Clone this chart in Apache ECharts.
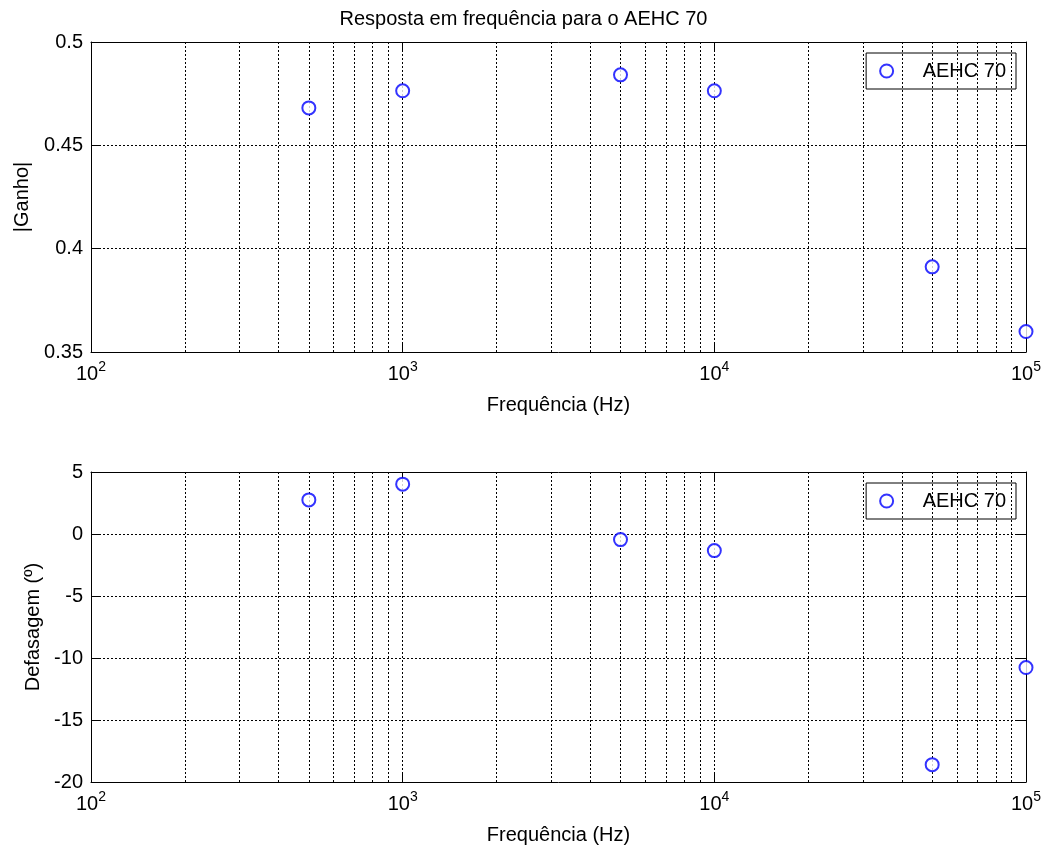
<!DOCTYPE html>
<html>
<head>
<meta charset="utf-8">
<title>Resposta em frequência para o AEHC 70</title>
<script src="https://cdn.jsdelivr.net/npm/echarts@6/dist/echarts.min.js"></script>
<style>
    html, body { margin: 0; padding: 0; background: #fff; }
    #chart { width: 1047px; height: 853px; }
</style>
</head>
<body>
<div id="chart"></div>
<script>
// === DATA ===
const freq = [500, 1000, 5000, 10000, 50000, 100000];
const ganho = [0.4681, 0.4764, 0.4841, 0.4764, 0.3912, 0.3599];
const defasagem = [2.75, 4.02, -0.45, -1.34, -18.6, -10.77];
const decades = [100, 1000, 10000];
const minorSteps = [2, 3, 4, 5, 6, 7, 8, 9];

const FONT = "Liberation Sans";
const gridDash = { color: "#000", width: 1, type: [2, 2] };

// minor grid positions 200..900, 2000..9000, 20000..90000
const minorLines = [];
decades.forEach((d) => minorSteps.forEach((k) => minorLines.push({ xAxis: k * d })));

const expLabel = (v) => "{b|10}{s|" + Math.round(Math.log10(v)) + "}";

const chart = echarts.init(document.getElementById("chart"));

const makeX = (gridIndex, showLabels) => ({
    type: "log",
    logBase: 10,
    gridIndex: gridIndex,
    position: showLabels ? "bottom" : "top",
    min: 100,
    max: 100000,
    splitNumber: 3,
    name: showLabels ? "Frequência (Hz)" : "",
    nameLocation: "middle",
    nameGap: 43,
    nameTextStyle: { fontFamily: FONT, fontSize: 20, color: "#000" },
    axisLine: { show: true, onZero: false, lineStyle: { color: "#000", width: 1 } },
    axisTick: { show: true, inside: true, length: 9, lineStyle: { color: "#000" } },
    axisLabel: {
        show: showLabels,
        margin: 8,
        formatter: expLabel,
        rich: {
            b: { fontFamily: FONT, fontSize: 20, color: "#000", lineHeight: 24, verticalAlign: "bottom" },
            s: { fontFamily: FONT, fontSize: 14, color: "#000", lineHeight: 14, verticalAlign: "top" },
        },
    },
    splitLine: { show: showLabels, lineStyle: gridDash },
});

const makeY = (gridIndex, showLabels, min, max, interval, name, nameGap) => ({
    type: "value",
    gridIndex: gridIndex,
    position: showLabels ? "left" : "right",
    min: min,
    max: max,
    interval: interval,
    name: showLabels ? name : "",
    nameLocation: "middle",
    nameGap: nameGap,
    nameTextStyle: { fontFamily: FONT, fontSize: 20, color: "#000" },
    axisLine: { show: true, onZero: false, lineStyle: { color: "#000", width: 1 } },
    axisTick: { show: true, inside: true, length: 9, lineStyle: { color: "#000" } },
    axisLabel: { show: showLabels, margin: 8, fontFamily: FONT, fontSize: 20, color: "#000" },
    splitLine: { show: showLabels, lineStyle: gridDash },
});

const makeLegend = (top) => ({
    data: ["AEHC 70"],
    right: 31,
    top: top,
    orient: "vertical",
    backgroundColor: "#fff",
    borderColor: "#000",
    borderWidth: 1,
    borderRadius: 0,
    padding: [8, 10, 8, 13],
    itemWidth: 62,
    itemHeight: 13,
    selectedMode: false,
    textStyle: { fontFamily: FONT, fontSize: 20, color: "#000", lineHeight: 20 },
});

const makeSeries = (xi, yi, values) => ({
    name: "AEHC 70",
    type: "scatter",
    xAxisIndex: xi,
    yAxisIndex: yi,
    data: freq.map((f, i) => [f, values[i]]),
    symbol: "emptyCircle",
    symbolSize: 13,
    itemStyle: { color: "#0000ff", borderColor: "#0000ff", borderWidth: 1 },
    markLine: {
        silent: true,
        symbol: "none",
        label: { show: false },
        lineStyle: gridDash,
        data: minorLines,
        animation: false,
    },
    z: 5,
});

const option = {
    animation: false,
    backgroundColor: "#fff",
    title: {
        text: "Resposta em frequência para o AEHC 70",
        left: "center",
        top: 4,
        textStyle: { fontFamily: FONT, fontSize: 20, fontWeight: "normal", color: "#000" },
    },
    grid: [
        { left: 91, right: 21, top: 42, height: 310 },
        { left: 91, right: 21, top: 472, height: 310 },
    ],
    xAxis: [makeX(0, true), makeX(0, false), makeX(1, true), makeX(1, false)],
    yAxis: [
        makeY(0, true, 0.35, 0.5, 0.05, "|Ganho|", 59),
        makeY(0, false, 0.35, 0.5, 0.05, "", 0),
        makeY(1, true, -20, 5, 5, "Defasagem (º)", 48),
        makeY(1, false, -20, 5, 5, "", 0),
    ],
    legend: [makeLegend(53), makeLegend(483)],
    series: [makeSeries(0, 0, ganho), makeSeries(2, 2, defasagem)],
};

chart.setOption(option);
</script>
</body>
</html>
